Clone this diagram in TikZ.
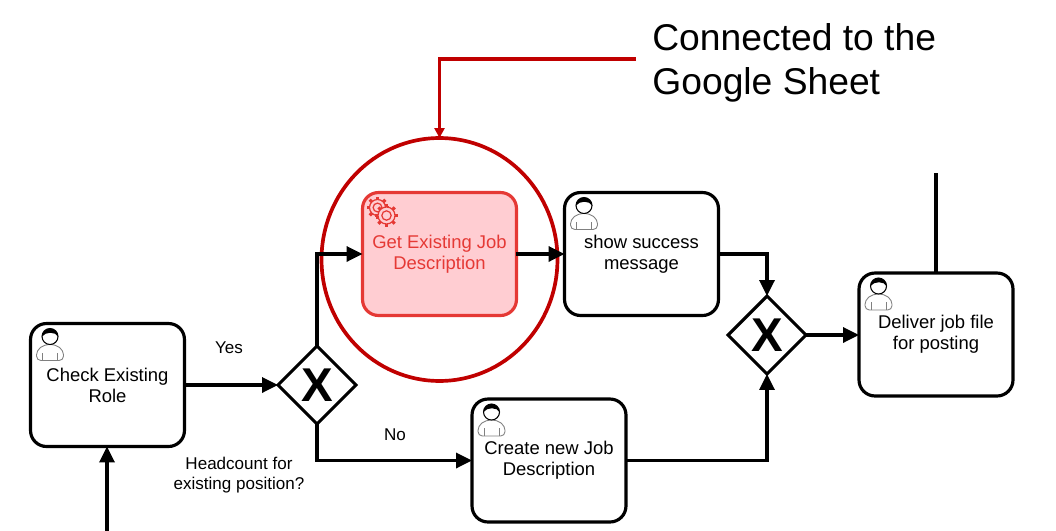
\documentclass[tikz,border=0pt]{standalone}
\usepackage{fontspec}
\setmainfont{Liberation Sans}
\usetikzlibrary{arrows.meta,shapes.geometric}
\definecolor{ringred}{RGB}{192,0,0}
\definecolor{taskred}{RGB}{229,57,53}
\definecolor{taskpink}{RGB}{255,205,210}
\tikzset{
  task/.style={draw,line width=1.8pt,rounded corners=0.32cm,minimum width=3.08cm,minimum height=2.46cm,
    align=center,font=\fontsize{10.5}{11.9}\selectfont,inner sep=0pt,outer sep=0pt},
  redtask/.style={task,draw=taskred,fill=taskpink,text=taskred},
  gateway/.style={draw,diamond,line width=1.8pt,minimum width=1.56cm,minimum height=1.56cm,inner sep=0pt,outer sep=0pt,
    font=\fontsize{27}{27}\selectfont\bfseries},
  flow/.style={line width=1.9pt,-{Triangle[length=0.32cm,width=0.3cm]}},
  flowlabel/.style={align=center,font=\fontsize{9.7}{11.3}\selectfont},
  usericon/.pic={
    % body
    \draw[gray,line width=0.5pt,rounded corners=2.5pt] (6,37) -- (6,27) -- (14,21) -- (25,21) -- (33,27) -- (33,37) -- cycle;
    \draw[gray,line width=0.5pt] (12,37) -- (12,29) (27,37) -- (27,29);
    % head
    \draw[fill=white,line width=0.6pt] (19.5,13) circle (8);
    \fill (11.5,13) arc (180:360:8) .. controls (25,8) and (15,8) .. (11.5,13) -- cycle;
  },
  gearicon/.pic={
    \foreach \x/\y/\r in {15/15/8,24/23/8.5}{
      \foreach \a in {0,45,...,315}
        \draw[taskred,line width=1.8pt] (\x,\y) ++(\a:\r) -- ++(\a:3);
      \draw[taskred,fill=taskpink,line width=0.7pt] (\x,\y) circle (\r);
      \draw[taskred,line width=0.7pt] (\x,\y) circle (\r*0.55);
    }
  }
}
\begin{document}
\begin{tikzpicture}[x=0.02cm,y=-0.02cm]
    \useasboundingbox (0,0) rectangle (1056,531);

    % --- Tasks ---
    \node[task] (checkrole) at (107.5,385) {Check Existing\\Role};
    \node[redtask] (getjob) at (439.5,254) {Get Existing Job\\Description};
    \node[task] (showmsg) at (641.5,254) {show success\\message};
    \node[task] (createjob) at (549,460.5) {Create new Job\\Description};
    \node[task] (deliver) at (936,334.5) {Deliver job file\\for posting};

    % --- Gateways ---
    \node[gateway] (gwrole) at (317,385) {X};
    \node[gateway] (gwmerge) at (767,335) {X};

    % --- Icons ---
    \foreach \t in {checkrole,showmsg,createjob,deliver}
      \pic at (\t.north west) {usericon};
    \pic at (getjob.north west) {gearicon};

    % --- Free ends ---
    \coordinate (inflow) at (107,531);
    \coordinate (outflow) at (936,173);
    \coordinate (calloutend) at (636,59);

    % --- Callout ---
    \node[ellipse,draw=ringred,line width=2.1pt,minimum width=4.72cm,minimum height=4.86cm,outer sep=0pt] (focusring) at (439.5,259.5) {};
    \node[anchor=west,align=left,inner sep=0.32cm,font=\fontsize{21.2}{25}\selectfont] (callout) at (636,63) {Connected to the\\Google Sheet};
    \draw[ringred,line width=2pt,-{Triangle[length=0.2cm,width=0.2cm]}] (calloutend) -| (focusring.north);

    % --- Flows ---
    \draw[flow] (inflow) -- (checkrole.south -| inflow);
    \draw[flow] (checkrole.east) -- (gwrole.west);
    \draw[flow] (gwrole.north) |- (getjob.west);
    \draw[flow] (gwrole.south) |- (createjob.west);
    \draw[flow] (getjob.east) -- (showmsg.west);
    \draw[flow] (showmsg.east) -| (gwmerge.north);
    \draw[flow] (createjob.east) -| (gwmerge.south);
    \draw[flow] (gwmerge.east) -- (deliver.west |- gwmerge.east);
    \draw[line width=1.9pt] (deliver.north) -- (outflow);

    % --- Labels ---
    \node[flowlabel] (yeslabel) at (229,347.5) {Yes};
    \node[flowlabel] (nolabel) at (395,434.5) {No};
    \node[flowlabel] (headcount) at (239,475) {Headcount for\\existing position?};
\end{tikzpicture}
\end{document}
